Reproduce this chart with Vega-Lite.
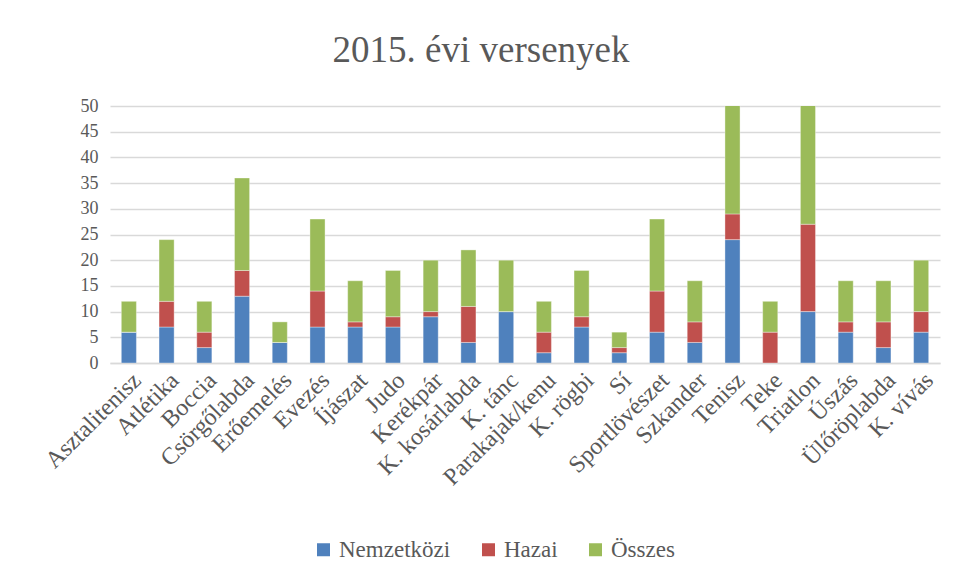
{
  "$schema": "https://vega.github.io/schema/vega-lite/v6.json",
  "width": 830,
  "height": 257,
  "autosize": {"type": "none"},
  "padding": {"left": 110, "top": 106, "right": 18, "bottom": 215},
  "background": "white",
  "title": {
    "text": "2015. évi versenyek",
    "font": "Liberation Serif",
    "fontSize": 37,
    "fontWeight": "normal",
    "color": "#595959",
    "frame": "group",
    "anchor": "middle",
    "dx": -44,
    "offset": 27
  },
  "data": {
    "values": [
      {"sport": "Asztalitenisz", "Nemzetközi": 6, "Hazai": 0, "Összes": 6},
      {"sport": "Atlétika", "Nemzetközi": 7, "Hazai": 5, "Összes": 12},
      {"sport": "Boccia", "Nemzetközi": 3, "Hazai": 3, "Összes": 6},
      {"sport": "Csörgőlabda", "Nemzetközi": 13, "Hazai": 5, "Összes": 18},
      {"sport": "Erőemelés", "Nemzetközi": 4, "Hazai": 0, "Összes": 4},
      {"sport": "Evezés", "Nemzetközi": 7, "Hazai": 7, "Összes": 14},
      {"sport": "Íjászat", "Nemzetközi": 7, "Hazai": 1, "Összes": 8},
      {"sport": "Judo", "Nemzetközi": 7, "Hazai": 2, "Összes": 9},
      {"sport": "Kerékpár", "Nemzetközi": 9, "Hazai": 1, "Összes": 10},
      {"sport": "K. kosárlabda", "Nemzetközi": 4, "Hazai": 7, "Összes": 11},
      {"sport": "K. tánc", "Nemzetközi": 10, "Hazai": 0, "Összes": 10},
      {"sport": "Parakajak/kenu", "Nemzetközi": 2, "Hazai": 4, "Összes": 6},
      {"sport": "K. rögbi", "Nemzetközi": 7, "Hazai": 2, "Összes": 9},
      {"sport": "Sí", "Nemzetközi": 2, "Hazai": 1, "Összes": 3},
      {"sport": "Sportlövészet", "Nemzetközi": 6, "Hazai": 8, "Összes": 14},
      {"sport": "Szkander", "Nemzetközi": 4, "Hazai": 4, "Összes": 8},
      {"sport": "Tenisz", "Nemzetközi": 24, "Hazai": 5, "Összes": 29},
      {"sport": "Teke", "Nemzetközi": 0, "Hazai": 6, "Összes": 6},
      {"sport": "Triatlon", "Nemzetközi": 10, "Hazai": 17, "Összes": 27},
      {"sport": "Úszás", "Nemzetközi": 6, "Hazai": 2, "Összes": 8},
      {"sport": "Ülőröplabda", "Nemzetközi": 3, "Hazai": 5, "Összes": 8},
      {"sport": "K. vívás", "Nemzetközi": 6, "Hazai": 4, "Összes": 10}
    ]
  },
  "transform": [
    {"fold": ["Nemzetközi", "Hazai", "Összes"], "as": ["sorozat", "ertek"]},
    {"window": [{"op": "row_number", "as": "sorrend"}], "groupby": ["sport"]}
  ],
  "mark": {"type": "bar", "clip": true, "stroke": "white", "strokeWidth": 0.6, "strokeOpacity": 0.6},
  "encoding": {
    "x": {
      "field": "sport",
      "type": "nominal",
      "sort": null,
      "title": null,
      "scale": {"paddingInner": 0.6, "paddingOuter": 0.3},
      "axis": {
        "labelAngle": -45,
        "labelFont": "Liberation Serif",
        "labelFontSize": 24,
        "labelColor": "#595959",
        "labelPadding": 5,
        "ticks": false,
        "domainColor": "#d9d9d9",
        "domainWidth": 1.5,
        "grid": false
      }
    },
    "y": {
      "field": "ertek",
      "type": "quantitative",
      "stack": "zero",
      "title": null,
      "scale": {"domain": [0, 50], "nice": false},
      "axis": {
        "values": [0, 5, 10, 15, 20, 25, 30, 35, 40, 45, 50],
        "labelFont": "Liberation Serif",
        "labelFontSize": 18,
        "labelColor": "#595959",
        "labelPadding": 12,
        "ticks": false,
        "domain": false,
        "gridColor": "#d9d9d9",
        "gridWidth": 1.5
      }
    },
    "color": {
      "field": "sorozat",
      "type": "nominal",
      "sort": ["Nemzetközi", "Hazai", "Összes"],
      "scale": {"domain": ["Nemzetközi", "Hazai", "Összes"], "range": ["#4F81BD", "#C0504D", "#9BBB59"]},
      "legend": {
        "title": null,
        "orient": "none",
        "direction": "horizontal",
        "legendX": 202,
        "legendY": 432,
        "symbolType": "square",
        "symbolSize": 169,
        "symbolStrokeWidth": 0,
        "labelFont": "Liberation Serif",
        "labelFontSize": 23,
        "labelColor": "#595959",
        "columnPadding": 26,
        "labelOffset": 4
      }
    },
    "order": {"field": "sorrend", "type": "quantitative", "sort": "ascending"}
  },
  "config": {"view": {"stroke": null}}
}
